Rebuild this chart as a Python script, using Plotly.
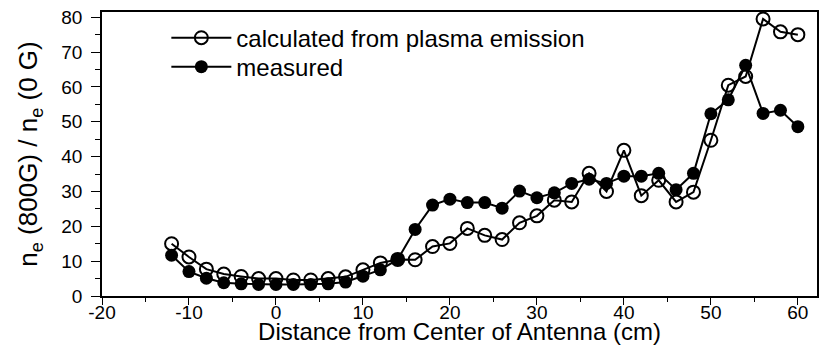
import plotly.graph_objects as go

# Position along the antenna (cm)
distance = [-12, -10, -8, -6, -4, -2, 0, 2, 4, 6, 8, 10, 12, 14, 16, 18, 20, 22, 24,
            26, 28, 30, 32, 34, 36, 38, 40, 42, 44, 46, 48, 50, 52, 54, 56, 58, 60]

# Density ratio n_e(800 G) / n_e(0 G)
calculated = [15.0, 11.2, 7.7, 6.3, 5.6, 5.0, 5.0, 4.6, 4.6, 5.0, 5.5, 7.5, 9.5, 10.5,
              10.4, 14.2, 15.1, 19.4, 17.4, 16.2, 21.0, 23.0, 27.5, 27.0, 35.2, 30.0,
              41.8, 28.8, 33.2, 27.0, 29.8, 44.7, 60.5, 63.0, 79.5, 75.8, 75.0]
measured = [11.7, 7.0, 5.1, 3.8, 3.5, 3.3, 3.3, 3.3, 3.3, 3.5, 4.0, 5.7, 7.5, 10.5,
            19.1, 26.1, 27.8, 26.8, 26.8, 25.2, 30.1, 28.2, 29.6, 32.3, 33.5, 32.3,
            34.4, 34.4, 35.2, 30.5, 35.2, 52.3, 56.3, 66.2, 52.4, 53.3, 48.6]

series_names = ["calculated from plasma emission", "measured"]

# Tick labels (plain hyphen for negatives)
x_tick_values = [-20, -10, 0, 10, 20, 30, 40, 50, 60]
x_tick_labels = ["-20", "-10", "0", "10", "20", "30", "40", "50", "60"]
y_tick_values = [0, 10, 20, 30, 40, 50, 60, 70, 80]
y_tick_labels = ["0", "10", "20", "30", "40", "50", "60", "70", "80"]

FONT = "Liberation Sans, Arial, Helvetica, sans-serif"

fig = go.Figure()
fig.add_trace(go.Scatter(
    x=distance, y=calculated, name=series_names[0], mode="lines+markers",
    line=dict(color="black", width=2),
    marker=dict(symbol="circle-open", size=13, color="black", line=dict(width=2)),
    legend="legend",
))
fig.add_trace(go.Scatter(
    x=distance, y=measured, name=series_names[1], mode="lines+markers",
    line=dict(color="black", width=2),
    marker=dict(symbol="circle", size=13, color="black"),
    legend="legend2",
))

axis_common = dict(
    showline=True, linecolor="black", linewidth=1.5, mirror=True,
    ticks="outside", tickwidth=1.3, tickcolor="black",
    showgrid=False, zeroline=False, automargin=False,
    tickfont=dict(size=19, color="black", family=FONT),
)

fig.update_xaxes(
    range=[-20, 62.2], tickvals=x_tick_values, ticktext=x_tick_labels,
    ticklen=7, ticklabelstandoff=-9,
    minor=dict(ticks="outside", ticklen=4, tickwidth=1.2, tickcolor="black", dtick=5),
    title=dict(text="Distance from Center of Antenna (cm)", standoff=0,
               font=dict(size=24, color="black", family=FONT)),
    **axis_common,
)
fig.update_yaxes(
    range=[0, 81.5], tickvals=y_tick_values, ticktext=y_tick_labels,
    ticklen=9, ticklabelstandoff=5,
    minor=dict(ticks="outside", ticklen=5, tickwidth=1.2, tickcolor="black", dtick=5),
    title=dict(text="n<sub>e</sub> (800G) / n<sub>e</sub> (0 G)", standoff=16,
               font=dict(size=26, color="black", family=FONT)),
    **axis_common,
)

legend_common = dict(
    x=0.09, xanchor="left", yanchor="middle",
    bgcolor="rgba(0,0,0,0)", itemwidth=60,
    font=dict(size=24, color="black", family=FONT),
)

fig.update_layout(
    width=838, height=345,
    margin=dict(l=102, r=21, t=12, b=49),
    paper_bgcolor="white", plot_bgcolor="white",
    font=dict(family=FONT, color="black"),
    showlegend=True,
    legend=dict(y=0.908, **legend_common),
    legend2=dict(y=0.806, **legend_common),
)

fig.write_html("out.html")
